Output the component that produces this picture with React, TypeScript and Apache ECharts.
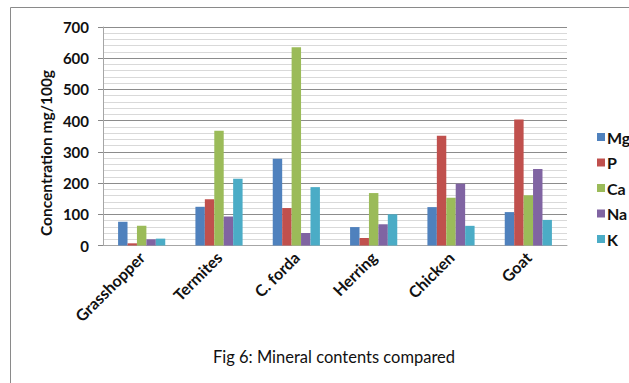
import React, { useEffect, useRef } from "react";
import * as echarts from "echarts";

const categories = ["Grasshopper", "Termites", "C. forda", "Herring", "Chicken", "Goat"];
const mg = [76, 124, 278, 59, 123, 107];
const p = [7, 148, 120, 24, 352, 404];
const ca = [63, 368, 635, 168, 153, 161];
const na = [20, 93, 40, 68, 198, 245];
const k = [22, 214, 187, 100, 63, 82];
const seriesNames = ["Mg", "P", "Ca", "Na", "K"];
const seriesColors = ["#4F81BD", "#C0504D", "#9BBB59", "#8064A2", "#4BACC6"];
const yTicks = { min: 0, max: 700, interval: 100 };

const FONT = "Lato, 'Open Sans', sans-serif";

export default function App() {
  const ref = useRef<HTMLDivElement>(null);

  useEffect(() => {
    if (!ref.current) return;
    const chart = echarts.init(ref.current, null, { renderer: "svg" });
    const values = [mg, p, ca, na, k];
    chart.setOption({
      animation: false,
      backgroundColor: "#ffffff",
      textStyle: { fontFamily: FONT },
      grid: { left: 103, right: 62, top: 27, bottom: 137.5, containLabel: false },
      legend: {
        orient: "vertical",
        left: 592,
        top: 124,
        itemWidth: 8,
        itemHeight: 8,
        itemGap: 9.5,
        icon: "rect",
        data: seriesNames,
        textStyle: { fontFamily: FONT, fontSize: 16, fontWeight: "bold", color: "#111", padding: [0, 0, 0, -3] },
      },
      xAxis: {
        type: "category",
        data: categories,
        axisLine: { show: true, lineStyle: { color: "#a6a6a6" } },
        axisTick: { show: false },
        axisLabel: {
          rotate: 45,
          interval: 0,
          margin: 9,
          fontFamily: FONT,
          fontSize: 16,
          fontWeight: "bold",
          color: "#111",
        },
      },
      yAxis: {
        type: "value",
        min: yTicks.min,
        max: yTicks.max,
        interval: yTicks.interval,
        axisLine: { show: true, lineStyle: { color: "#a6a6a6" } },
        axisTick: { show: true, length: 5, lineStyle: { color: "#888" } },
        minorTick: { show: false, splitNumber: 5 },
        axisLabel: {
          margin: 14,
          fontFamily: FONT,
          fontSize: 15,
          fontWeight: "bold",
          color: "#111",
        },
        splitLine: { show: true, lineStyle: { color: "#8c8c8c", width: 1 } },
        minorSplitLine: { show: true, lineStyle: { color: "#d9d9d9", width: 1 } },
      },
      series: seriesNames.map((name, i) => ({
        name,
        type: "bar",
        data: values[i],
        barGap: "0%",
        barCategoryGap: "39%",
        itemStyle: { color: seriesColors[i] },
      })),
      graphic: [
        {
          type: "rect",
          shape: { x: 10.5, y: 7.5, width: 700, height: 500 },
          style: { fill: "none", stroke: "#8a8a8a", lineWidth: 1 },
          silent: true,
        },
        {
          type: "text",
          x: 46,
          y: 153,
          rotation: Math.PI / 2,
          style: {
            text: "Concentration mg/100g",
            fontFamily: FONT,
            fontSize: 15.5,
            fontWeight: "bold",
            fill: "#111",
            align: "center",
            verticalAlign: "middle",
          },
        },
        {
          type: "text",
          x: 334,
          y: 357,
          style: {
            text: "Fig 6: Mineral contents compared",
            fontFamily: FONT,
            fontSize: 16.5,
            fill: "#111",
            align: "center",
            verticalAlign: "middle",
          },
        },
      ],
    });
    return () => chart.dispose();
  }, []);

  return (
    <div
      ref={ref}
      style={{ position: "fixed", left: 0, top: 0, width: 629, height: 383, background: "#fff" }}
    />
  );
}
